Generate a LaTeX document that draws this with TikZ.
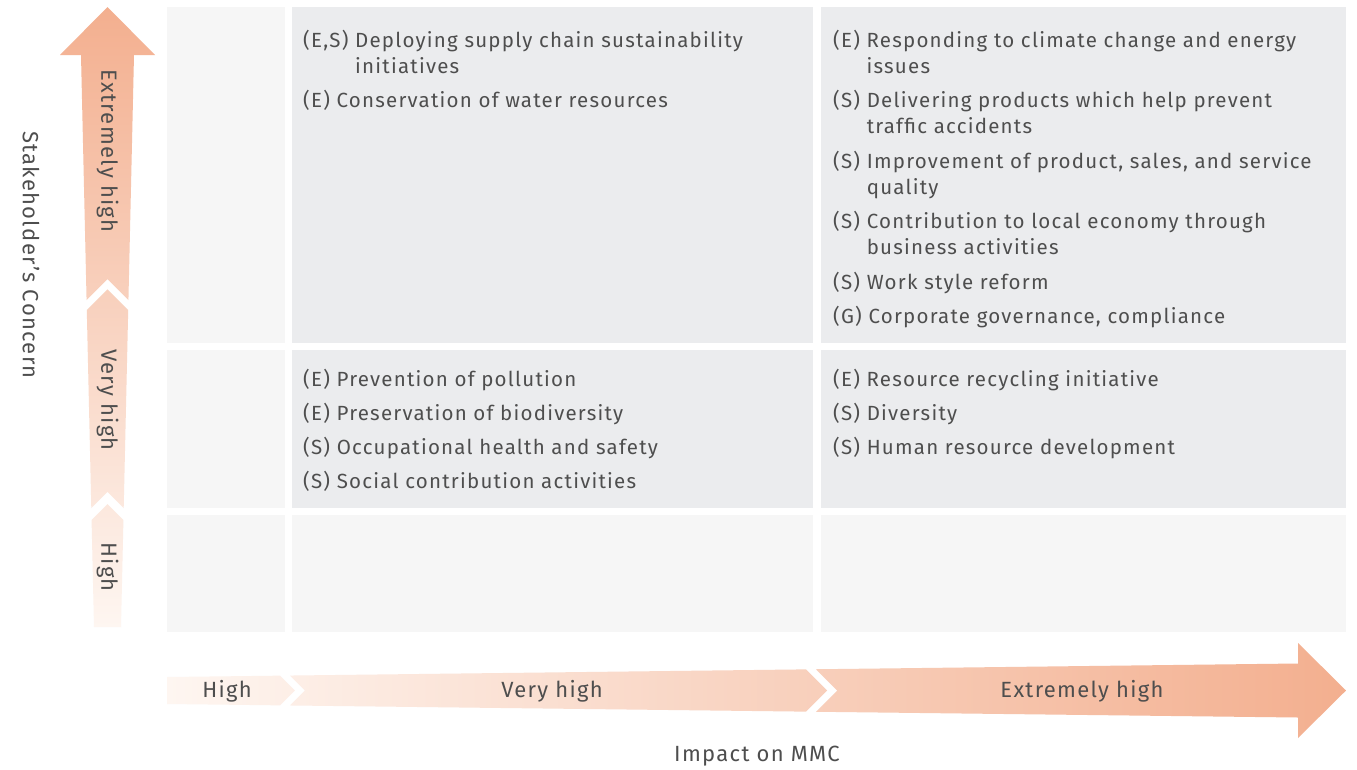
\documentclass[tikz,border=0pt]{standalone}
\usepackage{fontspec}
\setmainfont{Fira Sans}[LetterSpace=6]
\definecolor{cellA}{RGB}{246,246,246}
\definecolor{cellB}{RGB}{235,236,238}
\definecolor{txt}{RGB}{78,78,78}
\definecolor{salmon}{RGB}{243,175,143}
\definecolor{pale}{RGB}{254,246,241}
\newcommand{\itm}[2]{#1\ \begin{tabular}[t]{@{}l@{}}#2\end{tabular}}
\begin{document}
\begin{tikzpicture}[x=1pt,y=-1pt,
  every node/.style={text=txt, inner sep=0pt, font=\fontsize{20.5}{26}\selectfont},
  item/.style={anchor=base west},
  lbl/.style={font=\fontsize{22}{26}\selectfont},
  lowcell/.style={fill=cellA},
  hicell/.style={fill=cellB}]
\useasboundingbox (0,0) rectangle (1357,769);
\fill[white] (0,0) rectangle (1357,769);
% grid cells
\fill[lowcell] (167,7) rectangle (285,343);
\fill[hicell] (292,7) rectangle (813,343);
\fill[hicell] (821,7) rectangle (1346,343);
\fill[lowcell] (167,350) rectangle (285,508);
\fill[hicell] (292,350) rectangle (813,508);
\fill[hicell] (821,350) rectangle (1346,508);
\fill[lowcell] (167,515) rectangle (285,632);
\fill[lowcell] (292,515) rectangle (813,632);
\fill[lowcell] (821,515) rectangle (1346,632);
% vertical arrow
\begin{scope}
\clip (107.5,7) -- (155,55) -- (134,55) -- (128.43,300) -- (107.5,279.1) -- (86.57,300) -- (81,55) -- (60,55) -- cycle
 (86.8,310) -- (107.5,289.3) -- (128.2,310) -- (123.7,508) -- (107.5,491.8) -- (91.3,508) -- cycle
 (91.57,520) -- (107.5,504.1) -- (123.43,520) -- (121,627) -- (94,627) -- cycle;
\shade[top color=salmon, bottom color=pale] (60,7) rectangle (155,627);
\end{scope}
% horizontal arrow
\begin{scope}
\clip (167,677) -- (280,675.65) -- (294.85,690.5) -- (280,705.35) -- (167,704) -- cycle
 (290,675.53) -- (806,669.37) -- (827.1,690.5) -- (806,711.63) -- (290,705.47) -- (304.97,690.5) -- cycle
 (816,669.25) -- (1298,663.5) -- (1298,643) -- (1346,690.5) -- (1298,738) -- (1298,717.5) -- (816,711.75) -- (837.25,690.5) -- cycle;
\shade[left color=pale, right color=salmon] (167,643) rectangle (1346,738);
\end{scope}
% arrow labels
\node[lbl, rotate=-90] (vEH) at (107.5,151) {Extremely high};
\node[lbl, rotate=-90] (vVH) at (107.5,400) {Very high};
\node[lbl, rotate=-90] (vH) at (107.5,567) {High};
\node[lbl, rotate=-90] (yax) at (31,255) {Stakeholder’s Concern};
\node[lbl] (hH) at (227,691) {High};
\node[lbl] (hVH) at (552,691) {Very high};
\node[lbl] (hEH) at (1082,691) {Extremely high};
\node[lbl] (xax) at (757,756) {Impact on MMC};
% items, column 2 row 1
\node[item] (a1) at (303,47) {\itm{(E,S)}{Deploying supply chain sustainability\\initiatives}};
\node[item] (a2) at (303,107) {\itm{(E)}{Conservation of water resources}};
% column 3 row 1
\node[item] (b1) at (833,47) {\itm{(E)}{Responding to climate change and energy\\issues}};
\node[item] (b2) at (833,107) {\itm{(S)}{Delivering products which help prevent\\traffic accidents}};
\node[item] (b3) at (833,168) {\itm{(S)}{Improvement of product, sales, and service\\quality}};
\node[item] (b4) at (833,228) {\itm{(S)}{Contribution to local economy through\\business activities}};
\node[item] (b5) at (833,289) {\itm{(S)}{Work style reform}};
\node[item] (b6) at (833,323) {\itm{(G)}{Corporate governance, compliance}};
% column 2 row 2
\node[item] (c1) at (303,386) {\itm{(E)}{Prevention of pollution}};
\node[item] (c2) at (303,420) {\itm{(E)}{Preservation of biodiversity}};
\node[item] (c3) at (303,454) {\itm{(S)}{Occupational health and safety}};
\node[item] (c4) at (303,488) {\itm{(S)}{Social contribution activities}};
% column 3 row 2
\node[item] (d1) at (833,386) {\itm{(E)}{Resource recycling initiative}};
\node[item] (d2) at (833,420) {\itm{(S)}{Diversity}};
\node[item] (d3) at (833,454) {\itm{(S)}{Human resource development}};
\end{tikzpicture}
\end{document}
